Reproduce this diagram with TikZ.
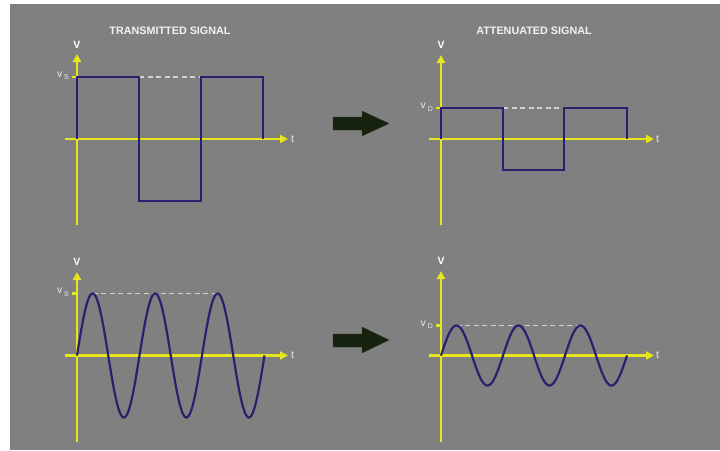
\documentclass[tikz,border=0pt]{standalone}
\usepackage{fontspec}
\setmainfont{Liberation Sans}
\usetikzlibrary{arrows.meta}
\definecolor{bgc}{HTML}{808080}
\definecolor{axc}{HTML}{E6E61A}
\definecolor{wavec}{HTML}{27216E}
\definecolor{dashc}{HTML}{D2D2D2}
\definecolor{arrc}{HTML}{17220E}
\begin{document}
\begin{tikzpicture}[x=1pt,y=-1pt,
  axis/.style={draw=axc, line width=2.2pt},
  axarrow/.style={axis, -{Triangle[length=8pt,width=8pt]}},
  wave/.style={draw=wavec, line width=2.2pt, line join=miter},
  dashln/.style={draw=dashc, line width=1.2pt, dash pattern=on 5pt off 3.5pt},
  lbl/.style={text=white, inner sep=0pt, font=\bfseries\fontsize{10.5}{10.5}\selectfont},
  vlbl/.style={text=white!92!black, inner sep=0pt, font=\fontsize{10.5}{10.5}\selectfont},
  tlbl/.style={text=white!92!black, inner sep=0pt, font=\fontsize{10.5}{10.5}\selectfont},
  ttl/.style={text=white!95!black, inner sep=0pt, font=\bfseries\fontsize{10.8}{10.8}\selectfont},
  bigarrow/.style={fill=arrc, draw=arrc!80!gray, line width=0.4pt}
]
\useasboundingbox (0,0) rectangle (720,450);
\fill[bgc] (10,4) rectangle (720,450);

% titles
\node[ttl] (t1) at (170,31) {TRANSMITTED SIGNAL};
\node[ttl] (t2) at (534,31) {ATTENUATED SIGNAL};

% ---------- top-left: square wave transmitted
\draw[dashln] (139,77) -- (201,77);
\draw[axis] (72,77) -- (77,77);
\draw[axarrow] (77,225) -- (77,54);
\draw[axarrow] (65,139) -- (288,139);
\draw[wave] (77,139) -- (77,77) -- (139,77) -- (139,201) -- (201,201) -- (201,77) -- (263,77) -- (263,139);
\node[lbl] (v1) at (77,45) {V};
\node[tlbl, anchor=west] (x1) at (291,139) {t};
\node[vlbl, anchor=east] (s1) at (69,76) {v\,\raisebox{-2.5pt}{\fontsize{7}{7}\selectfont S}};

% ---------- top-right: square wave attenuated
\draw[dashln] (503,108) -- (564,108);
\draw[axis] (436,108) -- (441,108);
\draw[axarrow] (441,225) -- (441,55);
\draw[axarrow] (429,139) -- (654,139);
\draw[wave] (441,139) -- (441,108) -- (503,108) -- (503,170) -- (564,170) -- (564,108) -- (627,108) -- (627,139);
\node[lbl] (v2) at (441,45) {V};
\node[tlbl, anchor=west] (x2) at (656,139) {t};
\node[vlbl, anchor=east] (s2) at (433,107) {v\,\raisebox{-2.5pt}{\fontsize{7}{7}\selectfont D}};

% ---------- bottom-left: sine transmitted
\draw[dashln] (92.6,293.5) -- (218,293.5);
\draw[axis] (72,293.5) -- (77,293.5);
\draw[axarrow] (77,442) -- (77,272);
\draw[axarrow] (65,355.5) -- (288,355.5);
\draw[wave] plot[domain=0:187.5, samples=240, smooth] ({77+\x},{355.5-62*sin(\x/62.5*360)});
\node[lbl] (v3) at (77,262) {V};
\node[tlbl, anchor=west] (x3) at (291,355.5) {t};
\node[vlbl, anchor=east] (s3) at (69,292.5) {v\,\raisebox{-2.5pt}{\fontsize{7}{7}\selectfont S}};

% ---------- bottom-right: sine attenuated
\draw[dashln] (456.5,325.5) -- (580.5,325.5);
\draw[axis] (436,325.5) -- (441,325.5);
\draw[axarrow] (441,442) -- (441,271);
\draw[axarrow] (429,355.5) -- (654,355.5);
\draw[wave] plot[domain=0:186, samples=240, smooth] ({441+\x},{355.5-30*sin(\x/62*360)});
\node[lbl] (v4) at (441,261) {V};
\node[tlbl, anchor=west] (x4) at (656,355.5) {t};
\node[vlbl, anchor=east] (s4) at (433,324.5) {v\,\raisebox{-2.5pt}{\fontsize{7}{7}\selectfont D}};

% ---------- big arrows
\draw[bigarrow] (333,117) -- (362,117) -- (362,111) -- (389,123.5) -- (362,136) -- (362,130) -- (333,130) -- cycle;
\draw[bigarrow] (333,334) -- (362,334) -- (362,327) -- (389,340) -- (362,353) -- (362,347) -- (333,347) -- cycle;
\end{tikzpicture}
\end{document}
